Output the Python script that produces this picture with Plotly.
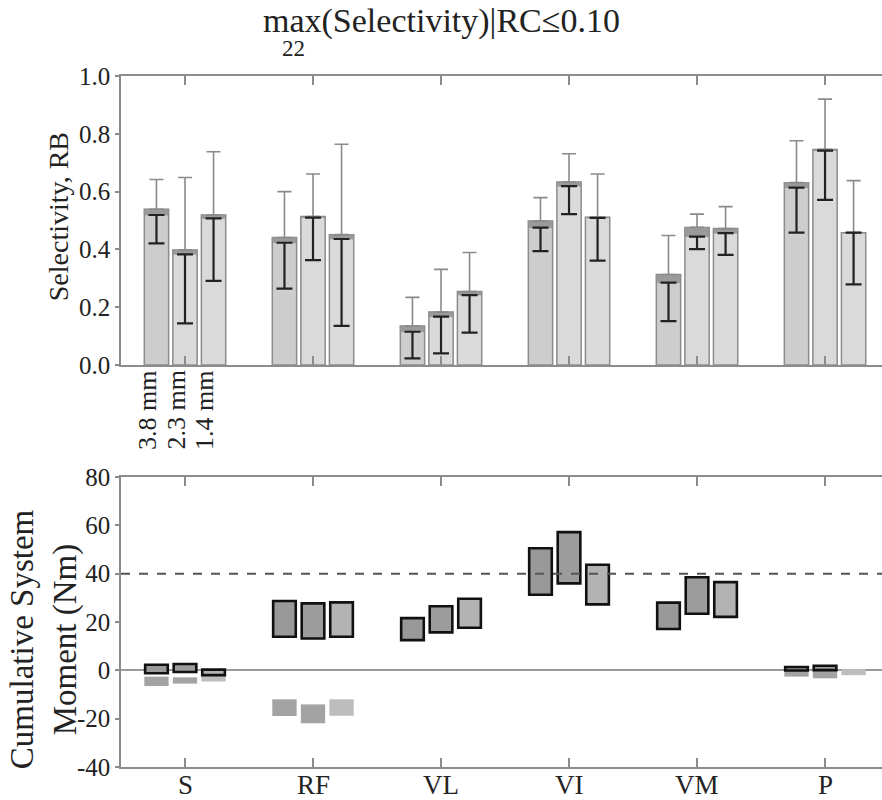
import numpy as np
import plotly.graph_objects as go
from plotly.subplots import make_subplots

# muscles along the x axis, electrode sizes within each group
groups = ["S", "RF", "VL", "VI", "VM", "P"]
sizes = ["3.8 mm", "2.3 mm", "1.4 mm"]

# selectivity: bar height, inner value, lower / upper error ends (one row per size)
sel_mean = [
    [0.539, 0.441, 0.135, 0.498, 0.313, 0.631],
    [0.398, 0.514, 0.183, 0.633, 0.476, 0.746],
    [0.519, 0.451, 0.254, 0.511, 0.472, 0.458],
]
sel_inner = [
    [0.519, 0.423, 0.115, 0.475, 0.285, 0.614],
    [0.383, 0.510, 0.167, 0.619, 0.444, 0.742],
    [0.507, 0.436, 0.242, 0.509, 0.456, 0.458],
]
sel_low = [
    [0.421, 0.264, 0.023, 0.394, 0.152, 0.458],
    [0.144, 0.363, 0.040, 0.522, 0.401, 0.571],
    [0.291, 0.135, 0.112, 0.361, 0.381, 0.279],
]
sel_high = [
    [0.642, 0.600, 0.234, 0.579, 0.448, 0.776],
    [0.649, 0.661, 0.331, 0.731, 0.522, 0.920],
    [0.738, 0.764, 0.389, 0.661, 0.548, 0.638],
]

# cumulative system moment (Nm): outlined boxes and grey boxes, low / high
mom_low = [
    [-1.2, 13.9, 12.5, 31.3, 17.1, -0.1],
    [-0.7, 13.2, 15.7, 36.0, 23.4, 0.1],
    [-2.0, 13.9, 17.6, 27.3, 22.1, None],
]
mom_high = [
    [2.3, 28.7, 21.6, 50.5, 28.0, 1.4],
    [2.6, 27.7, 26.5, 57.2, 38.5, 1.9],
    [0.3, 28.1, 29.6, 43.7, 36.5, None],
]
neg_low = [
    [-6.5, -18.9, None, None, None, -2.6],
    [-5.5, -21.9, None, None, None, -3.3],
    [-4.6, -18.8, None, None, None, -2.0],
]
neg_high = [
    [-2.6, -12.0, None, None, None, -0.2],
    [-2.9, -14.1, None, None, None, 0.0],
    [-2.0, -12.0, None, None, None, 0.5],
]
moment_limit = 40
moment_ticks = [-40, -20, 0, 20, 40, 60, 80]

FONT = "Liberation Serif"
gx = np.arange(1, len(groups) + 1)
offsets = [-0.223, 0.0, 0.223]
bar_w = 0.19

bar_fill = ["#cdcdcd", "#dadada", "#dadada"]
box_fill = ["#999999", "#9c9c9c", "#b3b3b3"]
neg_fill = ["#a3a3a3", "#a3a3a3", "#bdbdbd"]

fig = make_subplots(rows=2, cols=1, vertical_spacing=0.0)

for i in range(3):
    x = gx + offsets[i]
    a = np.array(sel_mean[i])
    b = np.array(sel_inner[i])
    lo = np.array(sel_low[i])
    hi = np.array(sel_high[i])
    fig.add_trace(go.Bar(x=x, y=a, width=bar_w, marker_color=bar_fill[i],
                         marker_line=dict(color="#8c8c8c", width=1.5)), row=1, col=1)
    fig.add_trace(go.Bar(x=x, y=a - b, base=b, width=bar_w, marker_color="#9a9a9a",
                         marker_line=dict(color="#8c8c8c", width=0.5)), row=1, col=1)
    # grey upper whisker from bar top
    fig.add_trace(go.Scatter(x=x, y=a, mode="markers", marker=dict(size=1, color="rgba(0,0,0,0)"),
                             error_y=dict(type="data", symmetric=False, array=hi - a,
                                          arrayminus=np.zeros(len(a)), color="#8a8a8a",
                                          thickness=1.6, width=7)), row=1, col=1)
    # black lower whisker from inner value
    fig.add_trace(go.Scatter(x=x, y=b, mode="markers", marker=dict(size=1, color="rgba(0,0,0,0)"),
                             error_y=dict(type="data", symmetric=False, array=np.zeros(len(b)),
                                          arrayminus=b - lo, color="#222222",
                                          thickness=2.2, width=8)), row=1, col=1)

for i in range(3):
    x = gx + offsets[i]
    nl = neg_low[i]
    nh = neg_high[i]
    fig.add_trace(go.Bar(x=x, base=nl,
                         y=[None if l is None else h - l for l, h in zip(nl, nh)],
                         width=bar_w, marker_color=neg_fill[i], marker_line_width=0),
                  row=2, col=1)
    ml = mom_low[i]
    mh = mom_high[i]
    fig.add_trace(go.Bar(x=x, base=ml,
                         y=[None if l is None else h - l for l, h in zip(ml, mh)],
                         width=bar_w * 0.93, marker_color=box_fill[i],
                         marker_line=dict(color="#111111", width=2.6)),
                  row=2, col=1)

fig.add_shape(type="line", xref="x2 domain", yref="y2", x0=0, x1=1,
              y0=moment_limit, y1=moment_limit,
              line=dict(color="#555555", width=2, dash="dash"))

axis_common = dict(showline=True, linecolor="#8c8c8c", linewidth=1.5, showgrid=False,
                   zeroline=False, tickfont=dict(family=FONT, size=25, color="#222222"))

fig.update_xaxes(range=[0.5, 6.445], tickvals=list(gx), ticks="inside", ticklen=9,
                 tickcolor="#8c8c8c", tickwidth=1.5, mirror="ticks",
                 showticklabels=False, **axis_common)

fig.update_yaxes(ticks="outside", ticklen=4, tickcolor="#8c8c8c", tickwidth=1.5, **axis_common)
fig.update_yaxes(range=[0, 1.0], tickvals=[0, 0.2, 0.4, 0.6, 0.8, 1.0], tickformat=".1f",
                 domain=[0.5818, 1.0], row=1, col=1)
fig.update_yaxes(range=[-40, 80], tickvals=moment_ticks,
                 ticktext=[str(v) for v in moment_ticks], domain=[0.0, 0.4197],
                 zeroline=True, zerolinecolor="#9a9a9a", zerolinewidth=1.5, row=2, col=1)

annotations = [
    dict(text="max(Selectivity)|RC≤0.10", x=0.4212, y=1.0499, xref="paper", yref="paper",
         xanchor="center", yanchor="bottom", showarrow=False,
         font=dict(family=FONT, size=34, color="#222222")),
    dict(text="22", x=0.2273, y=1.0564, yshift=3, xref="paper", yref="paper",
         xanchor="center", yanchor="top", showarrow=False,
         font=dict(family=FONT, size=23, color="#222222")),
    dict(text="Selectivity, RB", x=-0.0802, y=0.797, xshift=-2, xref="paper", yref="paper",
         textangle=-90, xanchor="center", yanchor="middle", showarrow=False,
         font=dict(family=FONT, size=28, color="#222222")),
    dict(text="Cumulative System<br>Moment (Nm)", x=-0.0985, y=0.185, xshift=-2,
         xref="paper", yref="paper",
         textangle=-90, xanchor="center", yanchor="middle", showarrow=False,
         font=dict(family=FONT, size=33, color="#222222")),
]
for i, s in enumerate(sizes):
    annotations.append(dict(text=s, x=gx[0] + offsets[i], y=0, xref="x", yref="y",
                            textangle=-90, xanchor="center", yanchor="top", yshift=-4,
                            xshift=-9, showarrow=False,
                            font=dict(family=FONT, size=26, color="#222222")))
# muscle names under the lower panel
for g, name in zip(gx, groups):
    annotations.append(dict(text=name, x=g, y=0, xref="x2", yref="paper", yanchor="top",
                            xanchor="center", yshift=-1, showarrow=False,
                            font=dict(family=FONT, size=27, color="#222222")))

fig.update_layout(
    width=882, height=800,
    margin=dict(l=121, r=0, t=76, b=33),
    barmode="overlay",
    showlegend=False,
    paper_bgcolor="white",
    plot_bgcolor="white",
    annotations=annotations,
    font=dict(family=FONT, color="#222222"),
)

# the page body keeps its default 8px margin otherwise
fig.write_html("out.html", config={"displayModeBar": False},
               post_script="document.body.style.margin='0';")
